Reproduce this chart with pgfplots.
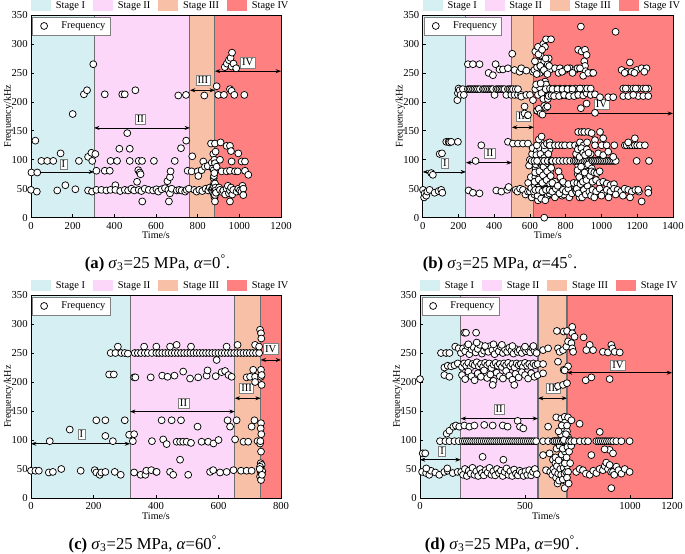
\documentclass[border=0pt]{standalone}
\usepackage{fontspec}
\setmainfont{Liberation Serif}
\usepackage{pgfplots}
\pgfplotsset{compat=1.18}
\usetikzlibrary{arrows.meta}
\definecolor{sI}{RGB}{214,239,243}
\definecolor{sII}{RGB}{252,215,250}
\definecolor{sIII}{RGB}{249,192,168}
\definecolor{sIV}{RGB}{255,128,128}
\definecolor{bnd}{RGB}{110,110,110}
\tikzset{lab/.style={draw=gray, fill=white, inner sep=1.3pt, font=\fontsize{8}{9}\selectfont, line width=0.4pt}}
\pgfplotsset{
  base/.style={scale only axis, ymin=0, ymax=350},
  bg/.style={base, hide axis,
    legend image code/.code={\fill[##1] (0pt,-4pt) rectangle (15pt,4pt);},
    legend style={at={(0,1)}, anchor=south west, yshift=1.5pt, legend columns=4, draw=none, fill=none,
      font=\fontsize{7.8}{9}\selectfont, inner sep=0pt, nodes={inner xsep=1pt},
      /tikz/every odd column/.append style={column sep=2.5pt},
      /tikz/every even column/.append style={column sep=5pt}}},
  fg/.style={base, ytick={0,50,...,350}, xtick pos=bottom, ytick pos=left, tick align=inside,
    major tick length=2.5pt, axis line style={line width=0.6pt}, tick style={line width=0.5pt,black},
    every tick label/.append style={font=\fontsize{8}{9}\selectfont},
    yticklabel style={xshift=1pt},
    /pgf/number format/assume math mode=true, /pgf/number format/1000 sep={},
    xlabel={Time/s}, ylabel={Frequency/kHz}, label style={font=\fontsize{7.6}{9}\selectfont},
    xlabel style={yshift=5pt}, ylabel style={yshift=-8pt},
    legend style={at={(0.006,0.992)}, anchor=north west, draw=gray, line width=0.4pt, fill=white,
      font=\fontsize{7.8}{9}\selectfont, inner xsep=1.5pt, inner ysep=1.5pt,
      /tikz/every odd column/.append style={column sep=3pt}}, legend cell align=left},
  pts/.style={only marks, mark=*, mark size=2.6pt, mark options={fill=white, draw=black, line width=0.55pt},
    legend image code/.code={\path[draw=none,fill=none] (0pt,0pt) -- (15pt,0pt); \draw[##1] plot coordinates {(7pt,0pt)};}},
  arr/.style={black, line width=0.55pt, {Stealth[length=4pt,width=3pt]}-{Stealth[length=4pt,width=3pt]}, forget plot},
  bl/.style={bnd, line width=0.8pt, forget plot},
}
\begin{document}
\begin{tikzpicture}
\useasboundingbox (0,0) rectangle (513.75pt,414.75pt);
% ---------------- (a)
\begin{axis}[bg, at={(23.25pt,251.5pt)}, anchor=south west, width=187.5pt, height=152pt, xmin=0, xmax=1200]
\addplot[fill=sI, draw=none] coordinates {(0,350) (303,350)} \closedcycle; \addlegendentry{Stage I}
\addplot[fill=sII, draw=none] coordinates {(303,350) (763,350)} \closedcycle; \addlegendentry{Stage II}
\addplot[fill=sIII, draw=none] coordinates {(763,350) (883,350)} \closedcycle; \addlegendentry{Stage III}
\addplot[fill=sIV, draw=none] coordinates {(883,350) (1200,350)} \closedcycle; \addlegendentry{Stage IV}
\addplot[bl] coordinates {(303,0) (303,350)};
\addplot[bl] coordinates {(763,0) (763,350)};
\addplot[bl] coordinates {(883,0) (883,350)};
\end{axis}
\begin{axis}[fg, at={(23.25pt,251.5pt)}, anchor=south west, width=187.5pt, height=152pt, xmin=0, xmax=1200, xtick={0,200,...,1200}]
\addplot[arr] coordinates {(0,79) (303,79)};
\addplot[arr] coordinates {(303,155) (763,155)};
\addplot[arr] coordinates {(763,220) (883,220)};
\addplot[arr] coordinates {(883,253) (1200,253)};
\addplot[pts] coordinates {
(0,48) (2,78) (21,133) (30,78) (28,45) (50,98) (78,98) (107,98) (126,47) (142,111) (165,56) (200,179) (213,49) (230,98) (254,213) (269,220) (274,105) (274,47) (290,112) (293,45) (294,98) (299,265) (309,110) (314,81)
(314,48) (338,48) (354,81) (354,213) (362,47) (378,81) (382,48) (382,98) (405,56) (405,48) (413,98) (424,119) (428,46) (438,213) (450,213) (450,48) (462,146) (466,47) (474,119) (474,98) (482,50) (495,47) (501,220) (509,62) (515,82) (517,98) (517,48) (522,78) (526,75) (530,46) (533,98) (534,28) (546,50) (565,48) (586,47) (590,98) (602,49) (611,45) (627,49) (643,51) (655,63) (659,48) (662,28) (667,42) (667,70) (670,80) (675,50) (690,98) (700,47) (707,211) (712,48) (720,120) (723,47) (740,45) (744,212) (745,133) (747,48) (752,81) (758,50)
(771,80) (774,106) (784,48) (795,45) (800,80) (803,72) (808,48) (819,82) (822,46) (827,97) (832,211) (835,88) (838,50) (848,89) (851,47) (858,52) (864,128) (867,48) (868,95) (872,85) (872,50) (874,44) (875,110) (876,55) (877,82) (877,68) (878,40) (878,72) (879,60) (880,100) (880,77) (881,35) (882,48) (883,128) (883,94) (883,59) (883,39) (883,28) (885,52) (886,114) (886,47) (888,43) (891,88) (891,227)
(899,212) (903,52) (907,100) (907,48) (910,130) (915,80) (918,44) (923,47) (926,212) (930,260) (932,40) (939,124) (939,80) (939,50) (940,266) (945,55) (950,272) (950,42) (955,222) (955,124) (955,81) (955,47) (955,28) (958,276) (960,115) (960,52) (963,219) (963,97) (963,261) (965,285) (966,40) (971,48) (972,266) (976,212) (979,80) (985,258) (987,45) (992,80) (995,111) (995,50) (1003,47) (1010,45) (1011,97) (1015,55) (1019,50) (1019,39) (1024,212) (1027,97) (1027,81) (1043,74)
};
\addlegendentry{Frequency}
\node[lab] at (axis cs:155,92) {I};
\node[lab] at (axis cs:525,170) {II};
\node[lab] at (axis cs:825,237) {III};
\node[lab] at (axis cs:1040,268) {IV};
\end{axis}
\node[font=\fontsize{12.5}{14}\selectfont] at (118.1pt,217.5pt) {\textbf{(a)} \textit{σ}\textsubscript{3}=25 MPa, \textit{α}=0\textsuperscript{°}.};
% ---------------- (b)
\begin{axis}[bg, at={(317pt,251.5pt)}, anchor=south west, width=187.7pt, height=152pt, xmin=0, xmax=1400]
\addplot[fill=sI, draw=none] coordinates {(0,350) (242,350)} \closedcycle; \addlegendentry{Stage I}
\addplot[fill=sII, draw=none] coordinates {(242,350) (499,350)} \closedcycle; \addlegendentry{Stage II}
\addplot[fill=sIII, draw=none] coordinates {(499,350) (622,350)} \closedcycle; \addlegendentry{Stage III}
\addplot[fill=sIV, draw=none] coordinates {(622,350) (1400,350)} \closedcycle; \addlegendentry{Stage IV}
\addplot[bl] coordinates {(242,0) (242,350)};
\addplot[bl] coordinates {(499,0) (499,350)};
\addplot[bl] coordinates {(622,0) (622,350)};
\end{axis}
\begin{axis}[fg, at={(317pt,251.5pt)}, anchor=south west, width=187.7pt, height=152pt, xmin=0, xmax=1400, xtick={0,200,...,1400}]
\addplot[arr] coordinates {(0,79) (242,79)};
\addplot[arr] coordinates {(242,95) (499,95)};
\addplot[arr] coordinates {(499,156) (622,156)};
\addplot[arr] coordinates {(622,180) (1400,180)};
\addplot[pts] coordinates {
(2,48) (8,35) (11,42) (20,38) (26,45) (39,48) (48,77) (57,74) (67,43) (89,46) (95,110) (104,48) (108,111) (110,43) (132,131) (145,131) (150,130) (160,131) (194,203) (197,131) (197,215) (201,223) (207,220) (212,212) (225,222) (230,212)
(253,265) (257,47) (253,222) (262,222) (270,222) (281,265) (281,43) (281,222) (290,222) (296,98) (300,222) (309,222) (318,265) (318,42) (320,222) (328,125) (337,222) (345,222) (355,222) (365,222) (369,250) (375,222) (385,222) (393,222) (393,246) (402,212) (408,265) (412,47) (412,222) (421,222) (430,256) (430,222) (440,45) (440,222) (449,256) (449,222) (458,222) (468,212) (473,48) (477,258) (477,131) (477,222) (481,53) (486,222) (496,212) (496,222) (501,283) (505,128) (505,222)
(514,255) (514,212) (520,222) (520,48) (530,45) (533,212) (533,128) (533,222) (542,252) (545,50) (550,212) (552,258) (552,209) (561,48) (561,128) (570,192) (570,180) (575,40) (580,254) (580,212) (589,128) (589,177) (589,45) (590,60) (595,90) (600,212) (600,45) (600,100) (605,70) (607,51) (610,35) (610,98) (612,110) (615,120) (617,252) (617,203)
(625,40) (628,55) (630,70) (632,85) (635,100) (638,115) (640,45) (642,60) (645,30) (648,75) (650,90) (652,105) (655,120) (658,40) (660,55) (662,130) (665,68) (668,82) (670,98) (672,35) (675,50) (678,112) (680,62) (680,0) (682,78) (685,95) (688,42) (690,125) (692,55) (695,70) (698,88) (700,38) (702,102) (705,48) (708,65) (710,118) (712,80) (715,52) (718,95) (720,40)
(622,45) (626,62) (629,78) (633,92) (636,108) (639,125) (643,38) (646,52) (649,66) (653,80) (656,95) (659,110) (663,33) (666,47) (669,60) (673,73) (676,88) (679,103) (683,118) (686,30) (689,50) (693,65) (696,80) (699,94) (703,110) (706,125) (709,42) (713,58) (716,72) (719,86) (625,98) (645,98) (655,98) (675,98) (695,98) (705,98) (715,98) (635,48) (655,48) (665,48) (685,48) (695,48) (705,48) (715,48)
(630,48) (650,48) (670,45) (690,48) (710,48) (660,98) (680,98) (700,98) (720,98) (640,98) (650,135) (665,140) (680,125) (695,128) (710,130)
(625,255) (630,287) (640,260) (645,295) (650,268) (655,250) (660,280) (665,262) (670,256) (675,300) (680,270) (685,252) (690,308) (695,258) (700,265) (705,275) (710,255) (630,222) (645,212) (655,225) (665,215) (675,205) (685,235) (690,230) (700,210) (710,222) (720,212) (640,185) (650,188) (660,180) (670,178) (680,193) (690,190) (700,205) (705,210) (698,192) (718,308) (684,295)
(628,270) (638,248) (648,282) (658,262) (668,290) (678,255) (688,275) (698,248) (708,262) (635,230) (660,232) (688,222)
(740,258) (768,258) (796,255) (824,258) (852,255) (760,250) (780,252) (810,258) (838,250) (866,258) (712,223) (740,223) (768,223) (796,223) (824,223) (852,223) (880,223) (726,222) (754,222) (782,222) (810,222) (838,222) (721,211) (749,212) (777,211) (805,211) (833,212) (861,212) (735,210) (763,210) (791,212) (819,210) (847,210)
(712,125) (740,125) (759,125) (780,125) (796,125) (824,125) (852,125) (875,125) (725,98) (745,98) (765,98) (785,98) (805,98) (825,98) (845,98) (730,48) (750,45) (770,50) (790,42) (810,48) (830,45) (850,50) (740,35) (780,38) (820,35) (740,62) (770,70) (800,58) (760,80) (790,40)
(725,45) (745,50) (765,42) (785,48) (800,45) (815,50) (835,42) (855,48) (725,60) (755,55) (785,62) (815,58) (845,60)
(860,45) (865,60) (868,75) (870,90) (872,105) (875,120) (878,35) (880,50) (883,65) (885,80) (888,95) (890,110) (892,40) (895,55) (898,70) (900,85) (903,100) (905,115) (908,45) (910,60) (912,75) (915,90) (918,105) (920,50) (925,65) (930,80) (935,98) (940,110) (870,148) (889,148) (904,148) (926,148) (945,146) (964,134) (992,148) (1010,137) (880,130) (900,125) (920,130)
(855,98) (865,98) (875,98) (885,98) (895,98) (905,98) (915,98) (925,98) (935,98) (945,98) (862,50) (872,42) (882,58) (892,35) (902,48) (912,40) (922,55) (932,45) (942,38) (866,82) (876,70) (886,88) (896,62) (906,78) (916,65) (926,92) (936,72) (946,85) (858,110) (868,118) (878,105) (888,120) (898,112) (908,108) (918,118) (928,112)
(950,98) (960,98) (970,98) (980,98) (990,98) (1000,98) (1010,98) (1020,98) (1030,98) (1040,98) (1050,98) (1060,98) (1070,98) (1080,98) (982,111) (1010,108) (1038,114) (1066,105) (964,125) (1001,125) (1029,125) (1072,125) (1131,125) (1141,125) (1159,125) (1170,125) (1187,125) (1200,125) (1215,125) (1243,125) (1187,137) (1150,130) (1197,98) (1266,98)
(945,80) (960,78) (975,77) (990,80) (950,62) (970,65) (990,60) (1010,62) (1030,59) (1050,56) (1070,58)
(950,48) (970,45) (990,50) (1010,42) (1030,48) (1050,45) (1070,50) (1090,48) (1110,45) (1130,50) (1150,48) (1170,45) (1190,48) (1210,45) (960,35) (1000,38) (1040,35) (1080,40) (1120,38) (1160,35) (1206,48) (1262,49) (1262,43) (1225,28)
(870,290) (889,287) (908,290) (917,281) (904,270) (908,262) (911,253) (898,245) (945,250) (926,250) (954,250) (885,330) (880,258) (870,212) (885,189) (917,197) (898,211) (917,215) (940,212) (964,213) (992,208) (964,181) (900,223) (920,223) (940,223) (880,223) (1038,208) (1066,208) (1079,321)
(1113,255) (1141,252) (1159,268) (1169,252) (1197,255) (1225,258) (1252,258) (1130,250) (1185,250) (1240,252) (1122,223) (1150,223) (1178,223) (1206,223) (1234,223) (1262,223) (1136,223) (1192,223) (1248,223) (1122,210) (1150,210) (1206,210) (1234,210) (1262,210) (1178,212)
};
\addlegendentry{Frequency}
\node[lab] at (axis cs:125,94) {I};
\node[lab] at (axis cs:376,111) {II};
\node[lab] at (axis cs:562,175) {III};
\node[lab] at (axis cs:1000,196) {IV};
\end{axis}
\node[font=\fontsize{12.5}{14}\selectfont] at (375pt,217.5pt) {\textbf{(b)} \textit{σ}\textsubscript{3}=25 MPa, \textit{α}=45\textsuperscript{°}.};
% ---------------- (c)
\begin{axis}[bg, at={(23.25pt,41.25pt)}, anchor=south west, width=187.5pt, height=152.25pt, xmin=0, xmax=800]
\addplot[fill=sI, draw=none] coordinates {(0,350) (317,350)} \closedcycle; \addlegendentry{Stage I}
\addplot[fill=sII, draw=none] coordinates {(317,350) (652,350)} \closedcycle; \addlegendentry{Stage II}
\addplot[fill=sIII, draw=none] coordinates {(652,350) (735,350)} \closedcycle; \addlegendentry{Stage III}
\addplot[fill=sIV, draw=none] coordinates {(735,350) (800,350)} \closedcycle; \addlegendentry{Stage IV}
\addplot[bl] coordinates {(317,0) (317,350)};
\addplot[bl] coordinates {(652,0) (652,350)};
\addplot[bl] coordinates {(735,0) (735,350)};
\end{axis}
\begin{axis}[fg, at={(23.25pt,41.25pt)}, anchor=south west, width=187.5pt, height=152.25pt, xmin=0, xmax=800, xtick={0,200,...,800}]
\addplot[arr] coordinates {(0,93.5) (317,93.5)};
\addplot[arr] coordinates {(317,149) (652,149)};
\addplot[arr] coordinates {(652,172) (735,172)};
\addplot[arr] coordinates {(735,238) (800,238)};
\addplot[pts] coordinates {
(0,47) (14,47) (25,47) (57,44) (60,98) (70,45) (97,50) (124,118) (159,47) (204,48) (209,44) (209,134) (220,40) (225,44) (238,45) (238,134) (238,107) (250,213) (255,250) (262,98) (265,213) (268,45) (270,250) (278,261) (287,40) (289,250) (300,250) (300,134) (310,249)
(314,109) (326,98) (330,110) (330,208) (330,44) (332,250) (334,208) (342,250) (351,40) (352,250) (362,261) (364,250) (366,40) (369,47) (374,250) (383,208) (385,48) (387,98) (387,250) (401,261) (401,250) (401,45)
(410,250) (420,250) (430,250) (440,250) (450,250) (460,250) (470,250) (480,250) (490,250) (500,250) (510,250) (520,250) (530,250) (540,250) (550,250) (560,250) (570,250) (580,250) (590,250) (600,250) (610,250) (620,250) (630,250) (640,250) (650,250) (660,250) (670,250) (680,250) (690,250) (700,250) (710,250) (720,250) (730,250)
(445,261) (466,264) (512,261) (626,261) (661,264) (717,264) (730,261) (594,238)
(420,211) (437,209) (459,211) (487,218) (509,206) (535,208) (562,211) (565,220) (591,210) (610,217) (621,219) (632,212) (642,209)
(418,134) (450,134) (480,134) (533,123) (629,134) (637,123)
(423,101) (434,93) (466,97) (477,97) (487,97) (498,97) (512,95) (546,97) (567,97) (584,94) (600,100) (653,101) (477,66)
(402,45) (445,45) (455,40) (503,40) (573,45) (583,48) (605,44) (626,45) (648,48)
(658,134) (672,47) (680,97) (690,208) (690,47) (695,97) (701,209) (706,123) (706,47) (711,221) (715,134) (717,209) (717,200) (725,98)
(733,290) (736,284) (736,209) (736,221) (738,195) (738,212) (736,129) (735,120) (737,110) (733,94) (736,80) (735,60) (738,57) (733,54) (736,48) (735,45) (738,43) (733,37) (736,31) (740,46) (732,50) (739,40) (734,98) (737,275)
};
\addlegendentry{Frequency}
\node[lab] at (axis cs:161,110) {I};
\node[lab] at (axis cs:488,163) {II};
\node[lab] at (axis cs:690,189) {III};
\node[lab] at (axis cs:767,257) {IV};
\end{axis}
\node[font=\fontsize{12.5}{14}\selectfont] at (108.75pt,6.5pt) {\textbf{(c)} \textit{σ}\textsubscript{3}=25 MPa, \textit{α}=60\textsuperscript{°}.};
% ---------------- (d)
\begin{axis}[bg, at={(315pt,41.25pt)}, anchor=south west, width=189pt, height=152.25pt, xmin=0, xmax=1200]
\addplot[fill=sI, draw=none] coordinates {(0,350) (194,350)} \closedcycle; \addlegendentry{Stage I}
\addplot[fill=sII, draw=none] coordinates {(194,350) (562,350)} \closedcycle; \addlegendentry{Stage II}
\addplot[fill=sIII, draw=none] coordinates {(562,350) (700,350)} \closedcycle; \addlegendentry{Stage III}
\addplot[fill=sIV, draw=none] coordinates {(700,350) (1200,350)} \closedcycle; \addlegendentry{Stage IV}
\addplot[bl] coordinates {(194,0) (194,350)};
\addplot[bl] coordinates {(562,0) (562,350)};
\addplot[bl] coordinates {(700,0) (700,350)};
\end{axis}
\begin{axis}[fg, at={(315pt,41.25pt)}, anchor=south west, width=189pt, height=152.25pt, xmin=0, xmax=1200, xtick={0,500,1000,1200}]
\addplot[arr] coordinates {(0,66) (194,66)};
\addplot[arr] coordinates {(194,137) (562,137)};
\addplot[arr] coordinates {(562,172) (700,172)};
\addplot[arr] coordinates {(700,216) (1200,216)};
\addplot[pts] coordinates {
(0,205) (13,77) (25,77) (10,45) (29,43) (44,40) (52,47) (73,44) (92,40) (116,45) (132,47) (156,43) (179,45) (30,51) (130,51) (95,98) (121,98) (140,98) (164,98) (184,98) (127,111) (140,116) (159,123) (171,125) (187,123) (100,250) (124,250) (140,250) (168,261) (184,258) (116,225) (132,228) (148,227) (164,229) (116,212) (140,209) (180,232)
(211,285) (219,285) (267,285)
(195,250) (205,258) (215,253) (225,262) (235,248) (245,256) (255,260) (265,251) (275,257) (285,264) (295,249) (305,254) (315,259) (325,252) (335,262) (345,255) (355,248) (365,258) (375,253) (385,261) (395,250) (405,256) (415,252) (425,259) (435,254) (445,249) (455,257) (465,252) (475,255) (485,250) (495,258) (505,253) (515,256) (525,251) (535,259) (545,254) (555,250)
(230,265) (270,268) (310,262) (350,265) (390,264) (440,262) (500,261) (540,262)
(200,226) (210,232) (220,228) (230,233) (240,225) (250,231) (260,229) (270,234) (280,227) (290,231) (300,226) (310,233) (320,229) (330,232) (340,224) (350,230) (360,233) (370,228) (380,231) (390,226) (400,232) (410,229) (420,233) (430,227) (440,231) (450,225) (460,232) (470,229) (480,231) (490,226) (500,233) (510,228) (520,231) (530,227) (540,232) (550,229) (560,231)
(200,212) (215,205) (230,218) (245,210) (260,203) (275,215) (290,209) (305,220) (320,207) (335,213) (350,202) (365,216) (380,210) (395,206) (410,219) (425,211) (440,204) (455,214) (470,208) (485,217) (500,212) (515,206) (530,215) (545,209) (560,212) (346,195) (449,195)
(211,125) (235,123) (259,125) (306,126) (346,125) (394,125) (417,123) (465,133) (476,123) (492,120)
(203,98) (213,98) (223,98) (233,98) (243,98) (253,98) (263,98) (273,98) (283,98) (293,98) (303,98) (313,98) (323,98) (333,98) (343,98) (353,98) (363,98) (373,98) (383,98) (393,98) (403,98) (413,98) (423,98) (433,98) (443,98) (453,98) (463,98) (473,98) (483,98) (493,98) (503,98) (513,98) (523,98) (533,98) (543,98) (553,98)
(298,71) (397,66)
(196,45) (205,40) (214,50) (223,38) (232,47) (241,42) (250,52) (259,40) (268,46) (277,38) (286,50) (295,43) (304,39) (313,48) (322,44) (331,52) (340,40) (349,46) (358,39) (367,50) (376,43) (385,47) (394,38) (403,45) (412,51) (421,40) (430,46) (439,38) (448,49) (457,42) (466,39) (475,47) (484,44) (493,38) (502,46) (511,40) (520,48) (529,39) (538,45) (547,50) (556,41)
(586,255) (610,258) (657,258) (665,252) (681,255) (697,261) (586,231) (657,235) (684,221) (705,227) (586,215) (689,220) (657,193) (681,195) (700,198) (652,288) (684,287) (700,288) (610,123) (649,139) (673,137) (689,140)
(586,98) (610,98) (633,98) (645,98) (655,98) (665,98) (675,98) (685,98) (695,98) (586,74) (617,77) (657,88) (681,95) (697,103) (633,66)
(600,48) (620,45) (640,40) (650,50) (660,35) (670,55) (680,45) (690,30) (645,60) (655,25) (665,45) (675,65) (685,38) (695,52) (689,17) (670,110) (680,120) (690,130) (700,115)
(630,40) (635,50) (642,45) (648,35) (652,55) (658,42) (662,30) (668,50) (672,40) (676,60) (680,32) (684,52) (688,42) (692,62) (696,45) (700,55) (645,70) (660,65) (675,75) (690,80) (650,85) (665,90) (680,85) (695,95) (640,98) (650,98) (660,98) (670,98) (680,98) (690,98) (700,98) (705,105) (695,110) (685,100) (660,115) (675,125) (700,125) (690,60) (698,70) (702,88)
(705,270) (721,267) (725,258) (729,252) (725,295) (725,284) (736,278) (779,277) (705,139) (721,134) (760,128) (710,80) (715,60) (705,45) (712,100) (720,90) (700,35) (708,25)
(808,264) (824,255) (792,255) (871,252) (895,251) (911,264) (916,258) (927,252) (951,251) (789,203) (816,208) (903,205)
(710,98) (720,98) (735,98) (761,98) (784,98) (800,98) (840,98) (850,98) (860,98) (870,98) (880,98) (890,98) (900,98) (910,98) (920,98) (935,98) (959,98) (998,98)
(856,114) (903,83) (879,84) (919,77) (816,74)
(744,45) (760,50) (776,48) (790,42) (808,40) (825,47) (840,43) (855,50) (871,48) (880,55) (887,61) (895,50) (903,57) (910,45) (919,45) (925,40) (935,54) (945,48) (959,42) (975,50) (998,45) (911,17)
};
\addlegendentry{Frequency}
\node[lab] at (axis cs:105,81) {I};
\node[lab] at (axis cs:377,153) {II};
\node[lab] at (axis cs:635,189) {III};
\node[lab] at (axis cs:943,229) {IV};
\end{axis}
\node[font=\fontsize{12.5}{14}\selectfont] at (376.5pt,6.5pt) {\textbf{(d)} \textit{σ}\textsubscript{3}=25 MPa, \textit{α}=90\textsuperscript{°}.};
\end{tikzpicture}
\end{document}
